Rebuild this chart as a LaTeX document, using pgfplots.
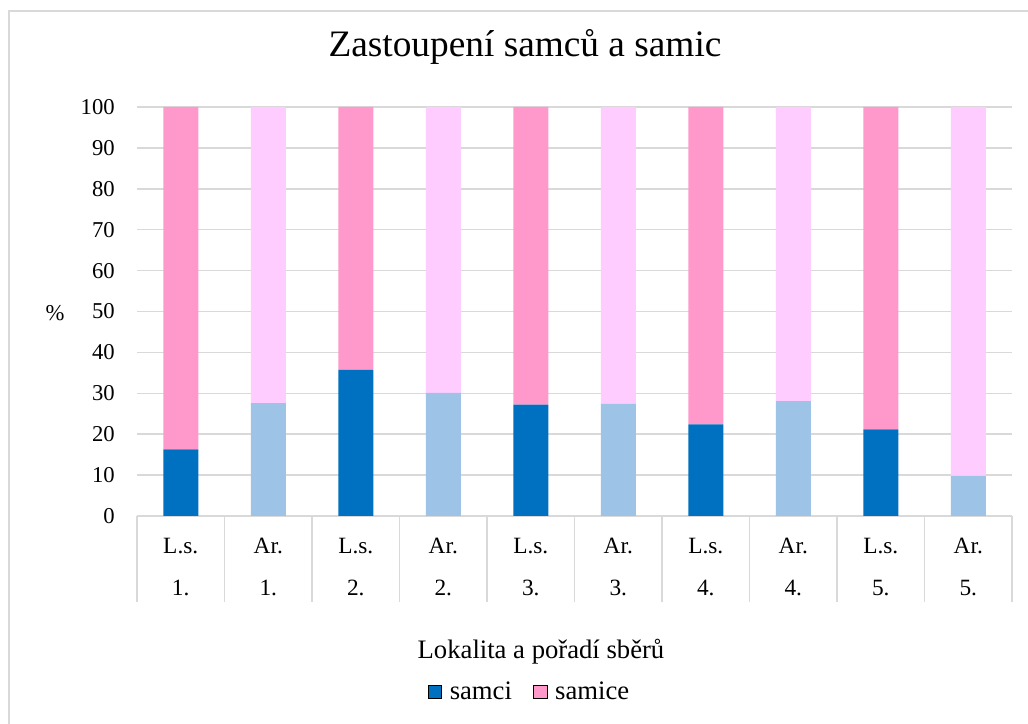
\documentclass[border=0pt]{standalone}
\usepackage{pgfplots}
\pgfplotsset{compat=1.18}
\usepackage{fontspec}
\setmainfont{Liberation Serif}
\definecolor{dblue}{RGB}{0,112,192}
\definecolor{lblue}{RGB}{157,195,230}
\definecolor{dpink}{RGB}{255,153,204}
\definecolor{lpink}{RGB}{255,204,255}
\definecolor{gridc}{RGB}{217,217,217}
\begin{document}
\begin{tikzpicture}
\path[use as bounding box] (0,0) rectangle (771pt,543pt);
\draw[gridc, line width=1.5pt] (6.5pt,0) -- (6.5pt,534.5pt) -- (775pt,534.5pt);
\begin{axis}[
  at={(102.75pt,156pt)}, anchor=south west,
  scale only axis, width=656.25pt, height=306.75pt,
  ybar stacked, bar width=26.25pt,
  xmin=-0.5, xmax=9.5, ymin=0, ymax=100,
  xtick={0,...,9},
  xticklabels={{L.s.\\1.},{Ar.\\1.},{L.s.\\2.},{Ar.\\2.},{L.s.\\3.},{Ar.\\3.},{L.s.\\4.},{Ar.\\4.},{L.s.\\5.},{Ar.\\5.}},
  ytick={0,10,...,100},
  axis line style={draw=none},
  ymajorgrids, grid style={gridc, line width=1.1pt},
  major tick length=0pt, tick pos=left,
  tick style={gridc, line width=1.1pt},
  extra x ticks={-0.5,0.5,...,9.5}, extra x tick labels={},
  extra x tick style={grid=none, major tick length=64.5pt, tick align=outside},
  /pgf/number format/assume math mode=true,
  yticklabel style={font=\fontsize{17}{20}\selectfont, anchor=east, inner sep=0pt, xshift=-16.5pt},
  xticklabel style={font=\fontsize{17.5}{31.5}\selectfont, align=center, anchor=center, inner sep=0pt, yshift=-38.25pt},
  title={Zastoupení samců a samic},
  title style={font=\fontsize{28}{32}\selectfont, at={(axis description cs:0.4434,1.127)}, anchor=center},
  xlabel={Lokalita a pořadí sběrů},
  xlabel style={font=\fontsize{20}{24}\selectfont, at={(axis description cs:0.4617,-0.3325)}, anchor=center},
  ylabel={\%},
  ylabel style={font=\fontsize{17}{20}\selectfont, rotate=-90, at={(axis description cs:-0.0937,0.496)}, anchor=center},
  legend style={draw=none, font=\fontsize{20}{24}\selectfont, at={(axis description cs:0.449,-0.430)}, anchor=center, legend columns=2,
    /tikz/every odd column/.append style={column sep=4pt},
    /tikz/every even column/.append style={column sep=14pt}},
  legend image code/.code={\fill[#1] (0pt,-5pt) rectangle (10pt,5pt);},
]
\addlegendimage{fill=dblue}
\addlegendimage{fill=dpink}
\addplot[fill=dblue, draw=none] coordinates {(0,16.3) (1,0) (2,35.7) (3,0) (4,27.2) (5,0) (6,22.4) (7,0) (8,21.2) (9,0)};
\addplot[fill=lblue, draw=none] coordinates {(0,0) (1,27.6) (2,0) (3,30.1) (4,0) (5,27.4) (6,0) (7,28.1) (8,0) (9,9.8)};
\addplot[fill=dpink, draw=none] coordinates {(0,83.7) (1,0) (2,64.3) (3,0) (4,72.8) (5,0) (6,77.6) (7,0) (8,78.8) (9,0)};
\addplot[fill=lpink, draw=none] coordinates {(0,0) (1,72.4) (2,0) (3,69.9) (4,0) (5,72.6) (6,0) (7,71.9) (8,0) (9,90.2)};
\legend{samci,samice}
\end{axis}
\end{tikzpicture}
\end{document}
